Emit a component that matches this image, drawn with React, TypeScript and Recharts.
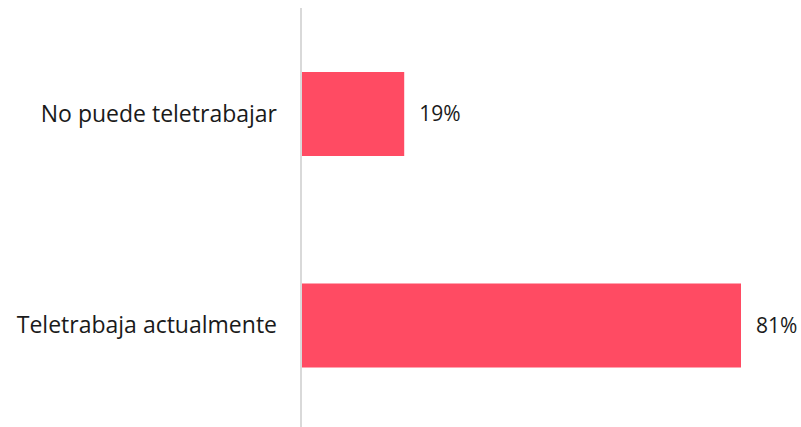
import { BarChart, Bar, XAxis, YAxis, LabelList } from 'recharts';

const categories = ['No puede teletrabajar', 'Teletrabaja actualmente'];
const shares = [19, 81];

const data = categories.map((category, i) => ({ category, share: shares[i] }));

const FONT = '"Open Sans", Lato, sans-serif';

export default function App() {
  return (
    <div
      style={{
        position: 'absolute',
        left: 0,
        top: 0,
        width: 801,
        height: 427,
        overflow: 'hidden',
        fontFamily: FONT,
      }}
    >
      <BarChart
        width={801}
        height={431}
        data={data}
        layout="vertical"
        margin={{ top: 8, right: 60, bottom: 0, left: 0 }}
        barCategoryGap="20%"
      >
        <XAxis type="number" domain={[0, 81]} hide />
        <YAxis
          type="category"
          dataKey="category"
          width={301}
          axisLine={{ stroke: '#d9d9d9', strokeWidth: 2 }}
          tickLine={false}
          tickSize={0}
          tickMargin={24}
          tick={{ fill: '#1a1a1a', fontSize: 23, fontFamily: FONT }}
        />
        <Bar dataKey="share" fill="#ff4b63" barSize={84} isAnimationActive={false}>
          <LabelList
            dataKey="share"
            position="right"
            offset={15}
            formatter={(v: number) => `${v}%`}
            style={{ fill: '#1a1a1a', fontSize: 21, fontFamily: FONT }}
          />
        </Bar>
      </BarChart>
    </div>
  );
}
